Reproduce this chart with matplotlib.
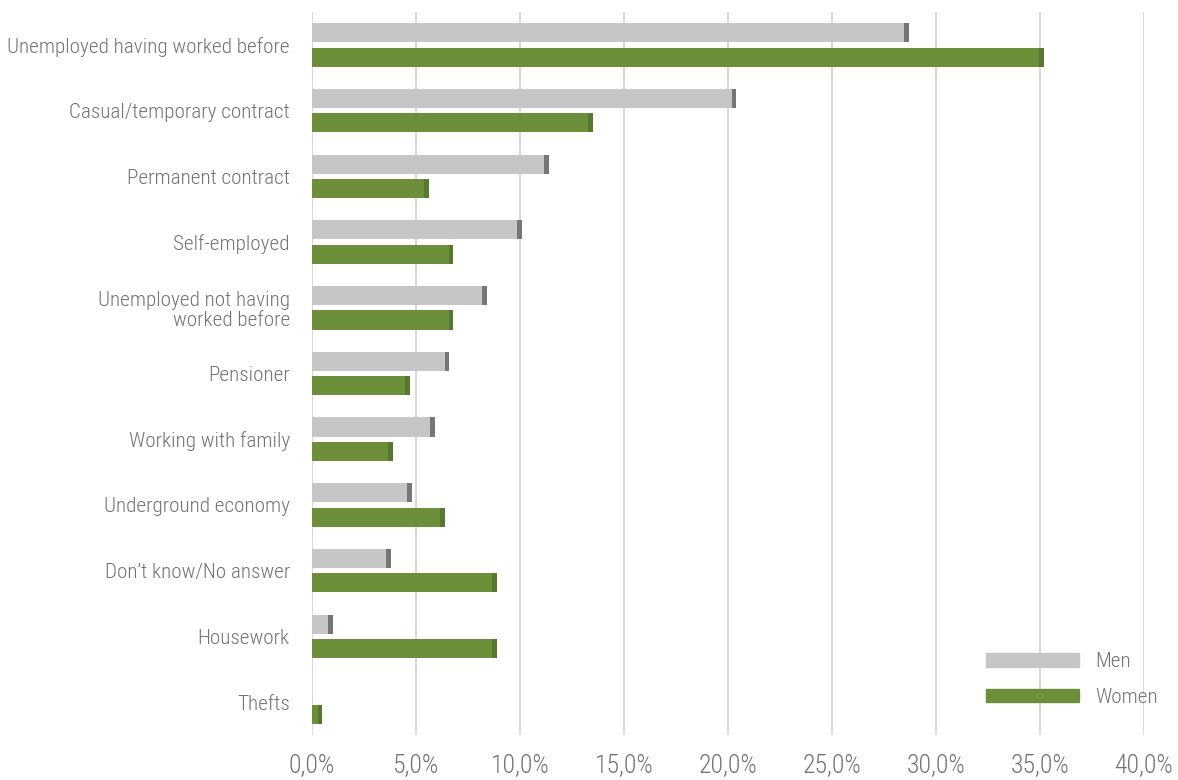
import matplotlib
matplotlib.use('Agg')

import matplotlib.pyplot as plt
from matplotlib.patches import Patch
from matplotlib.ticker import FuncFormatter

plt.rcParams['font.family'] = ['Roboto Condensed', 'DejaVu Sans']
plt.rcParams['font.stretch'] = 'condensed'
plt.rcParams['font.weight'] = 'light'

# Share of each group, in percent
categories = [
    'Unemployed having worked before',
    'Casual/temporary contract',
    'Permanent contract',
    'Self-employed',
    'Unemployed not having\nworked before',
    'Pensioner',
    'Working with family',
    'Underground economy',
    'Don\u2019t know/No answer',
    'Housework',
    'Thefts',
]
men = [28.7, 20.4, 11.4, 10.1, 8.4, 6.6, 5.9, 4.8, 3.8, 1.0, 0.0]
women = [35.2, 13.5, 5.6, 6.8, 6.8, 4.7, 3.9, 6.4, 8.9, 8.9, 0.5]
xticks = [0, 5, 10, 15, 20, 25, 30, 35, 40]

text_grey = '#737373'
men_col, men_cap = '#c6c6c6', '#767676'
women_col, women_cap = '#6e8f3a', '#557a2e'

fig = plt.figure(figsize=(11.78, 7.80), dpi=100)
ax = fig.add_axes([0.2649, 0.0577, 0.7062, 0.9269])

ypos = list(range(len(categories)))
h = 0.29
off = 0.186
cap = 0.23


def draw_series(vals, shift, col, capcol):
    y = [p + shift for p in ypos]
    ax.barh(y, vals, height=h, color=col, zorder=3)
    # darker end piece on each bar
    for yy, v in zip(y, vals):
        if v > 0:
            ax.barh(yy, min(cap, v), left=v - min(cap, v), height=h,
                    color=capcol, zorder=4)


draw_series(men, -off, men_col, men_cap)
draw_series(women, off, women_col, women_cap)

ax.set_xlim(0, 40)
ax.set_ylim(len(categories) - 0.5, -0.5)
ax.set_xticks(xticks)
ax.xaxis.set_major_formatter(FuncFormatter(lambda v, p: ('%.1f%%' % v).replace('.', ',')))
ax.set_yticks(ypos)
ax.set_yticklabels(categories, linespacing=1.05)

ax.grid(axis='x', color='#d9d9d9', linewidth=1.5, zorder=0)
ax.set_axisbelow(True)
for s in ax.spines.values():
    s.set_visible(False)
ax.tick_params(axis='both', length=0, colors=text_grey)
ax.tick_params(axis='y', pad=16, labelsize=15.2)
ax.tick_params(axis='x', pad=13, labelsize=18.5)

handles = [Patch(color=men_col, label='Men'), Patch(color=women_col, label='Women')]
ax.legend(handles=handles, loc='lower right', bbox_to_anchor=(1.04, 0.012),
          frameon=False, fontsize=15.2, labelcolor=text_grey,
          handlelength=4.4, handleheight=0.58, labelspacing=0.8, handletextpad=0.8)

fig.savefig('out.png', dpi=100)
